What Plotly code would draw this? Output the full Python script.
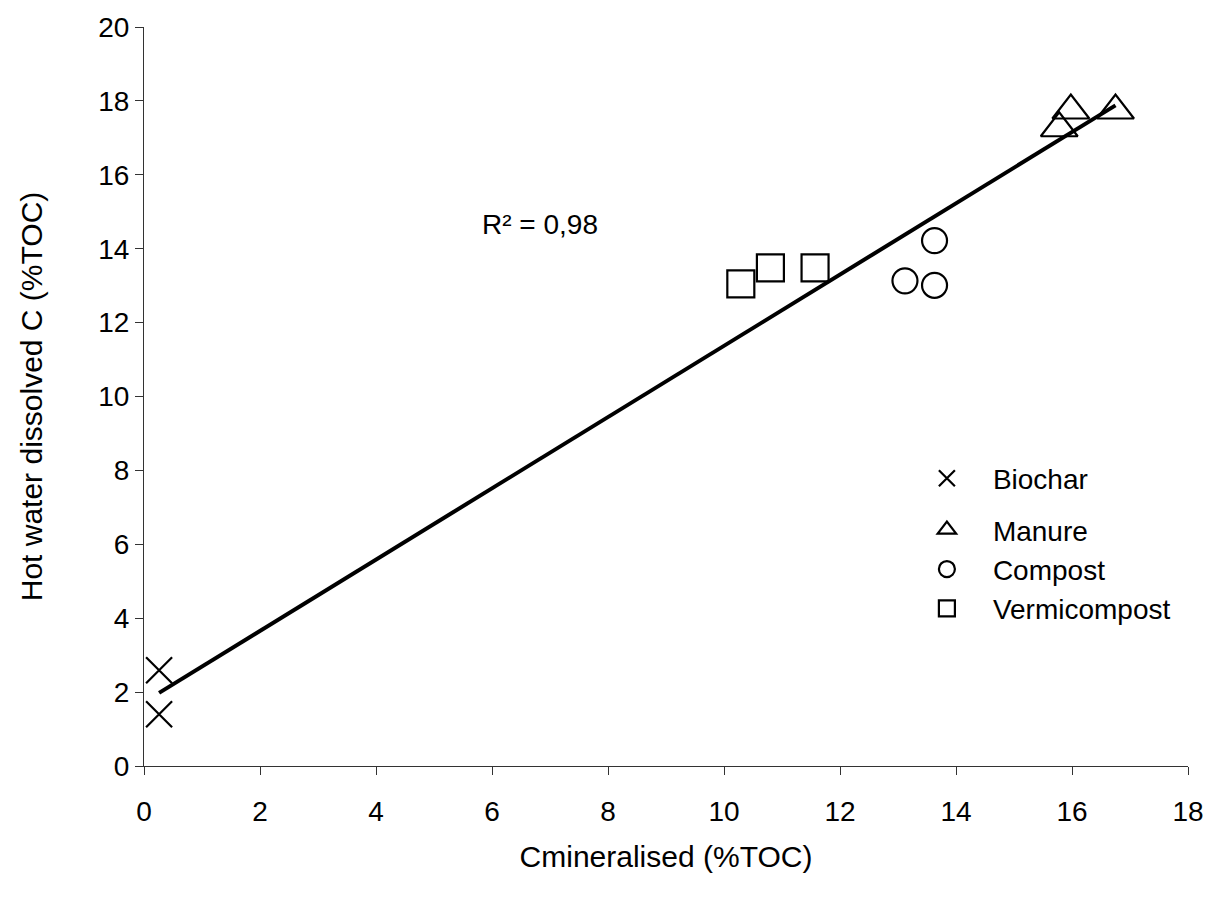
import plotly.graph_objects as go

# Mineralised C vs hot-water dissolved C, both as % of total organic C
biochar_x = [0.26, 0.26]
biochar_y = [2.59, 1.40]

manure_x = [15.78, 15.98, 16.75]
manure_y = [17.26, 17.74, 17.74]

compost_x = [13.63, 13.12, 13.63]
compost_y = [14.22, 13.13, 13.01]

vermi_x = [10.29, 10.80, 11.57]
vermi_y = [13.05, 13.48, 13.48]

# Linear trendline end points
trend_x = [0.26, 16.75]
trend_y = [1.98, 17.88]
r2_label = "R² = 0,98"

x_ticks = list(range(0, 19, 2))
y_ticks = list(range(0, 21, 2))

FONT = "Liberation Sans, Arial, sans-serif"
INK = "#000000"

fig = go.Figure()

fig.add_trace(go.Scatter(
    x=trend_x, y=trend_y, mode="lines",
    line=dict(color=INK, width=4), showlegend=False, hoverinfo="skip",
))

series = [
    ("Biochar", biochar_x, biochar_y, "x-thin-open", 26, "legend"),
    ("Manure", manure_x, manure_y, "triangle-up-open", 32, "legend2"),
    ("Compost", compost_x, compost_y, "circle-open", 25, "legend2"),
    ("Vermicompost", vermi_x, vermi_y, "square-open", 27, "legend2"),
]
for name, xs, ys, sym, size, leg in series:
    fig.add_trace(go.Scatter(
        x=xs, y=ys, mode="markers", name=name, legend=leg,
        marker=dict(symbol=sym, size=size, color=INK,
                    line=dict(color=INK, width=2.2)),
    ))

legend_common = dict(
    font=dict(family=FONT, size=28, color=INK),
    bgcolor="rgba(0,0,0,0)", borderwidth=0,
    itemwidth=82, xanchor="left", yanchor="middle",
)

fig.update_layout(
    width=1216, height=897,
    margin=dict(l=144, r=26, t=24, b=131),
    paper_bgcolor="white", plot_bgcolor="white",
    font=dict(family=FONT, size=28, color=INK),
    legend=dict(x=0.725, y=0.389, **legend_common),
    legend2=dict(x=0.725, y=0.266, **legend_common),
    xaxis=dict(
        range=[0, 18], tickvals=x_ticks, ticktext=[str(v) for v in x_ticks],
        showgrid=False, zeroline=False,
        showline=True, linecolor="#333333", linewidth=1.2,
        ticks="outside", ticklen=8, tickwidth=1.2, tickcolor="#333333",
        ticklabelstandoff=12,
        tickfont=dict(family=FONT, size=28, color=INK),
        title=dict(text="Cmineralised (%TOC)", standoff=20,
                   font=dict(family=FONT, size=30, color=INK)),
    ),
    yaxis=dict(
        range=[0, 20], tickvals=y_ticks, ticktext=[str(v) for v in y_ticks],
        showgrid=False, zeroline=False,
        showline=True, linecolor="#333333", linewidth=1.2,
        ticks="outside", ticklen=8, tickwidth=1.2, tickcolor="#333333",
        tickfont=dict(family=FONT, size=28, color=INK),
        title=dict(text="Hot water dissolved C (%TOC)", standoff=46,
                   font=dict(family=FONT, size=30, color=INK)),
    ),
    annotations=[dict(
        x=6.83, y=14.66, xref="x", yref="y", text=r2_label,
        showarrow=False, font=dict(family=FONT, size=28, color=INK),
    )],
)

fig.write_html("out.html")
